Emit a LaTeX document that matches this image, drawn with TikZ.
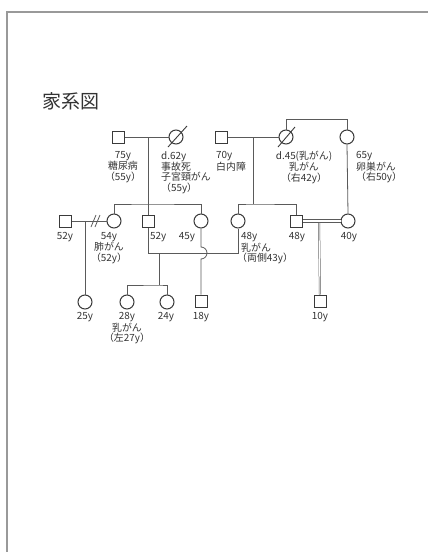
\documentclass[tikz,border=0pt]{standalone}
\usepackage{fontspec}
\usetikzlibrary{calc}
\setmainfont{Noto Sans CJK JP}
\definecolor{shp}{HTML}{3A3A3A}
\definecolor{lnc}{HTML}{5A5A5A}
\definecolor{txt}{HTML}{333333}
\definecolor{frm}{HTML}{999999}
\begin{document}
\begin{tikzpicture}[x=1pt,y=-1pt,
  sq/.style={draw=shp, line width=1pt, minimum size=12pt, inner sep=0pt, fill=white},
  ci/.style={draw=shp, line width=1pt, circle, minimum size=14pt, inner sep=0pt, fill=white},
  ln/.style={draw=lnc, line width=0.8pt},
  dbl/.style={draw=lnc, line width=0.7pt, double=white},
  lbl/.style={text=txt, font=\fontsize{9.9}{8.9}\selectfont, inner sep=0pt, anchor=north},
  lbll/.style={lbl, anchor=north west, align=left},
  lblc/.style={lbl, align=center},
  frame/.style={draw=frm, line width=1.5pt},
  slash/.style={draw=shp, line width=0.9pt}
]
\useasboundingbox (0,0) rectangle (428,552);
\draw[frame] (7,553) -- (7,12) -- (429,12);

\node[text=txt, font=\fontsize{19}{19}\selectfont, anchor=north west, inner sep=0pt] (title) at (42,92) {家系図};

% Generation I
\node[sq] (m75) at (118,137) {};
\node[ci] (f62) at (176,137) {};
\node[sq] (m70) at (221,137) {};
\node[ci] (f45) at (286,137) {};
\node[ci] (f65) at (347,137) {};

% Generation II
\node[sq] (m52a) at (65,221) {};
\node[ci] (f54) at (114,221) {};
\node[sq] (m52b) at (148,221) {};
\node[ci] (f45b) at (201,221) {};
\node[ci] (f48) at (238,221) {};
\node[sq] (m48) at (296,221) {};
\node[ci] (f40) at (348,221) {};

% Generation III
\node[ci] (f25) at (85,302) {};
\node[ci] (f28) at (127,302) {};
\node[ci] (f24) at (167,302) {};
\node[sq] (m18) at (201,301) {};
\node[sq] (m10) at (320,301) {};

% coordinates
\coordinate (d1) at (148,137);
\coordinate (s1) at (148,204);
\coordinate (d2) at (253,137);
\coordinate (s2) at (253,204);
\coordinate (tA) at (286,119);
\coordinate (tB) at (347,119);
\coordinate (dv) at (85,221);
\coordinate (mA) at (148,253);
\coordinate (mB) at (238,253);
\coordinate (c1) at (159,253);
\coordinate (c2) at (159,285);
\coordinate (h1) at (201,247);
\coordinate (dd) at (319,223);

% Generation I connections
\draw[ln] (m75.east) -- (f62.west);
\draw[ln] (d1) -- (s1);
\draw[ln] (f54.north) |- (s1) -| (f45b.north);
\draw[ln] (s1) -- (m52b.north);
\draw[ln] (m70.east) -- (f45.west);
\draw[ln] (d2) -- (s2);
\draw[ln] (f48.north) |- (s2) -| (m48.north);
\draw[ln] (f45.north) -- (tA) -- (tB) -- (f65.north);
\draw[ln] (f65.south) -- (f40.north);

% Generation II connections
\draw[ln] (m52a.east) -- (f54.west);
\draw[ln] (91,227) -- (96,215);
\draw[ln] (95,227) -- (100,215);
\draw[ln] (dv) -- (f25.north);
\draw[ln] (m52b.south) -- (mA) -- (mB) -- (f48.south);
\draw[ln] (c1) -- (c2);
\draw[ln] (f28.north) |- (c2) -| (f24.north);
\draw[ln] (f45b.south) -- (h1) arc[start angle=-90, end angle=90, radius=6] -- (m18.north);
\draw[dbl, double distance=2.8pt] (m48.east) -- (f40.west);
\draw[dbl, line width=0.5pt, double distance=1pt] (dd) -- (m10.north);

% deceased slashes
\draw[slash] ($(f62)+(-8,10)$) -- ($(f62)+(11,-11)$);
\draw[slash] ($(f45)+(-8,10)$) -- ($(f45)+(9,-10)$);

% labels
\node[lblc] (l75) at (123,151) {75y\\糖尿病\\（55y）};
\node[lbll] (l62) at (161,151) {d.62y\\事故死\\子宮頸がん\\（55y）};
\node[lbll] (l70) at (216,151) {70y\\白内障};
\node[lblc] (l45) at (304,151) {d.45(乳がん)\\乳がん\\（右42y）};
\node[lbll] (l65) at (356,151) {65y\\卵巣がん\\（右50y）};

\node[lblc] (l52a) at (65,232) {52y};
\node[lblc] (l54) at (109,232) {54y\\肺がん\\（52y）};
\node[lbll] (l52b) at (150,232) {52y};
\node[lblc] (l45b) at (187,232) {45y};
\node[lbll] (l48) at (241,232) {48y\\乳がん\\\hspace*{-4pt}（両側43y）};
\node[lblc] (l48m) at (297,232) {48y};
\node[lblc] (l40) at (349,232) {40y};

\node[lblc] (l25) at (85,312) {25y};
\node[lblc] (l28) at (127,312) {28y\\乳がん\\（左27y）};
\node[lblc] (l24) at (166,312) {24y};
\node[lblc] (l18) at (201,312) {18y};
\node[lblc] (l10) at (320,312) {10y};
\end{tikzpicture}
\end{document}
